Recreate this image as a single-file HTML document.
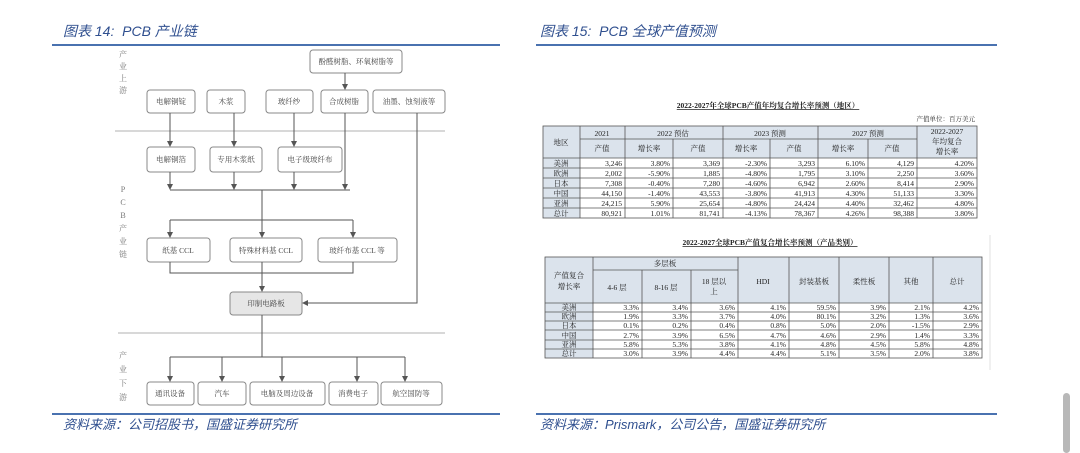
<!DOCTYPE html>
<html><head><meta charset="utf-8"><style>
html,body{margin:0;padding:0;background:#fff;}
body{width:1080px;height:451px;overflow:hidden;position:relative;}
.t{position:absolute;font-family:"Liberation Sans","Noto Sans CJK SC",sans-serif;font-style:italic;color:#2f4f8f;font-size:14px;white-space:nowrap;}
.ln{position:absolute;height:2px;background:#4a72b0;}
</style></head><body>
<div class="t" style="left:63px;top:21px;">图表 14:&nbsp; PCB 产业链</div>
<div class="t" style="left:540px;top:21px;">图表 15:&nbsp; PCB 全球产值预测</div>
<div class="ln" style="left:52px;top:44px;width:448px;"></div>
<div class="ln" style="left:536px;top:44px;width:461px;"></div>
<div class="ln" style="left:52px;top:413px;width:448px;"></div>
<div class="ln" style="left:536px;top:413px;width:461px;"></div>
<div class="t" style="left:63px;top:414px;font-size:13px;">资料来源：公司招股书，国盛证券研究所</div>
<div class="t" style="left:540px;top:414px;font-size:13px;">资料来源：Prismark，公司公告，国盛证券研究所</div>
<div style="position:absolute;left:1063px;top:393px;width:7px;height:60px;background:#b8b8b8;border-radius:4px;"></div>

<svg style="position:absolute;left:0;top:0" width="1080" height="451" xmlns="http://www.w3.org/2000/svg">
<defs><marker id="a" markerWidth="6" markerHeight="6" refX="5" refY="3" orient="auto"><path d="M0,0 L6,3 L0,6z" fill="#555"/></marker></defs>
<g font-family="Liberation Serif,Noto Serif CJK SC,serif" fill="#555">
<g stroke="#ccc" stroke-width="1.5"><line x1="115" y1="131" x2="445" y2="131"/><line x1="118" y1="333" x2="445" y2="333"/></g>
<g font-size="8" fill="#777" text-anchor="middle">
<text x="123" y="57">产</text><text x="123" y="69">业</text><text x="123" y="81">上</text><text x="123" y="93">游</text>
<text x="123" y="192">P</text><text x="123" y="205">C</text><text x="123" y="218">B</text><text x="123" y="231">产</text><text x="123" y="244">业</text><text x="123" y="257">链</text>
<text x="123" y="358">产</text><text x="123" y="372">业</text><text x="123" y="386">下</text><text x="123" y="400">游</text>
</g>
<g fill="#fff" stroke="#888" stroke-width="1">
<rect x="310" y="50" width="92" height="23" rx="3"/>
<rect x="147" y="90" width="48" height="23" rx="3"/><rect x="207" y="90" width="38" height="23" rx="3"/><rect x="266" y="90" width="47" height="23" rx="3"/><rect x="321" y="90" width="47" height="23" rx="3"/><rect x="373" y="90" width="72" height="23" rx="3"/>
<rect x="147" y="147" width="48" height="25" rx="3"/><rect x="210" y="147" width="52" height="25" rx="3"/><rect x="278" y="147" width="64" height="25" rx="3"/>
<rect x="147" y="238" width="63" height="24" rx="3"/><rect x="230" y="238" width="72" height="24" rx="3"/><rect x="318" y="238" width="79" height="24" rx="3"/>
<rect x="230" y="292" width="72" height="23" rx="3" fill="#e6e6e6"/>
<rect x="147" y="382" width="47" height="23" rx="3"/><rect x="198" y="382" width="48" height="23" rx="3"/><rect x="250" y="382" width="75" height="23" rx="3"/><rect x="329" y="382" width="49" height="23" rx="3"/><rect x="381" y="382" width="61" height="23" rx="3"/>
</g>
<g stroke="#555" stroke-width="1" fill="none">
<line x1="345" y1="73" x2="345" y2="89" marker-end="url(#a)"/>
<line x1="170" y1="113" x2="170" y2="146" marker-end="url(#a)"/><line x1="234" y1="113" x2="234" y2="146" marker-end="url(#a)"/><line x1="294" y1="113" x2="294" y2="146" marker-end="url(#a)"/>
<line x1="170" y1="172" x2="170" y2="189" marker-end="url(#a)"/><line x1="234" y1="172" x2="234" y2="189" marker-end="url(#a)"/><line x1="294" y1="172" x2="294" y2="189" marker-end="url(#a)"/><line x1="345" y1="113" x2="345" y2="189" marker-end="url(#a)"/>
<line x1="170" y1="190" x2="350" y2="190"/><line x1="262" y1="190" x2="262" y2="220"/>
<line x1="170" y1="220" x2="353" y2="220"/>
<line x1="170" y1="220" x2="170" y2="237" marker-end="url(#a)"/><line x1="262" y1="220" x2="262" y2="237" marker-end="url(#a)"/><line x1="353" y1="220" x2="353" y2="237" marker-end="url(#a)"/>
<polyline points="170,262 170,273 353,273 353,262"/><line x1="262" y1="262" x2="262" y2="291" marker-end="url(#a)"/>
<polyline points="417,113 417,303 303,303" marker-end="url(#a)"/>
<line x1="262" y1="315" x2="262" y2="357"/><line x1="170" y1="357" x2="405" y2="357"/>
<line x1="170" y1="357" x2="170" y2="381" marker-end="url(#a)"/><line x1="222" y1="357" x2="222" y2="381" marker-end="url(#a)"/><line x1="282" y1="357" x2="282" y2="381" marker-end="url(#a)"/><line x1="357" y1="357" x2="357" y2="381" marker-end="url(#a)"/><line x1="405" y1="357" x2="405" y2="381" marker-end="url(#a)"/>
</g>
<g font-size="7.5" text-anchor="middle" fill="#444">
<text x="356" y="64">酚醛树脂、环氧树脂等</text>
<text x="171" y="104">电解铜锭</text><text x="226" y="104">木浆</text><text x="289" y="104">玻纤纱</text><text x="344" y="104">合成树脂</text><text x="409" y="104">油墨、蚀刻液等</text>
<text x="171" y="162">电解铜箔</text><text x="236" y="162">专用木浆纸</text><text x="310" y="162">电子级玻纤布</text>
<text x="178" y="253">纸基 CCL</text><text x="266" y="253">特殊材料基 CCL</text><text x="357" y="253">玻纤布基 CCL 等</text>
<text x="266" y="306">印制电路板</text>
<text x="170" y="396">通讯设备</text><text x="222" y="396">汽车</text><text x="287" y="396">电脑及周边设备</text><text x="353" y="396">消费电子</text><text x="411" y="396">航空国防等</text>
</g>
</g>

<!-- Table 1 -->
<g font-family="Liberation Serif,Noto Serif CJK SC,serif" font-size="7.5" fill="#222">
<text x="768" y="108" text-anchor="middle" font-weight="bold" text-decoration="underline">2022-2027年全球PCB产值年均复合增长率预测（地区）</text>
<text x="975" y="121" text-anchor="end" font-size="6.5">产值单位：百万美元</text>
<rect x="543" y="126" width="434" height="32" fill="#dbe3ec"/>
<rect x="543" y="158" width="37" height="60" fill="#dbe3ec"/>
<g stroke="#555" stroke-width="0.8" fill="none">
<rect x="543" y="126" width="434" height="92"/>
<line x1="580" y1="139" x2="917" y2="139"/>
<line x1="543" y1="158" x2="977" y2="158"/>
<line x1="580" y1="126" x2="580" y2="218"/><line x1="625" y1="126" x2="625" y2="218"/><line x1="673" y1="139" x2="673" y2="218"/><line x1="723" y1="126" x2="723" y2="218"/><line x1="770" y1="139" x2="770" y2="218"/><line x1="818" y1="126" x2="818" y2="218"/><line x1="868" y1="139" x2="868" y2="218"/><line x1="917" y1="126" x2="917" y2="218"/>
<line x1="543" y1="168" x2="977" y2="168"/><line x1="543" y1="178" x2="977" y2="178"/><line x1="543" y1="188" x2="977" y2="188"/><line x1="543" y1="198" x2="977" y2="198"/><line x1="543" y1="208" x2="977" y2="208"/>
</g>
<g text-anchor="middle">
<text x="561" y="145">地区</text><text x="602" y="136">2021</text><text x="673" y="136">2022 预估</text><text x="770" y="136">2023 预测</text><text x="868" y="136">2027 预测</text>
<text x="947" y="134">2022-2027</text><text x="947" y="144">年均复合</text><text x="947" y="154">增长率</text>
<text x="602" y="151">产值</text><text x="649" y="151">增长率</text><text x="698" y="151">产值</text><text x="746" y="151">增长率</text><text x="794" y="151">产值</text><text x="843" y="151">增长率</text><text x="892" y="151">产值</text>
<text x="561" y="166">美洲</text><text x="561" y="176">欧洲</text><text x="561" y="186">日本</text><text x="561" y="196">中国</text><text x="561" y="206">亚洲</text><text x="561" y="216">总计</text>
</g>
<g text-anchor="end">
<text x="622" y="166">3,246</text><text x="670" y="166">3.80%</text><text x="720" y="166">3,369</text><text x="767" y="166">-2.30%</text><text x="815" y="166">3,293</text><text x="865" y="166">6.10%</text><text x="914" y="166">4,129</text><text x="974" y="166">4.20%</text>
<text x="622" y="176">2,002</text><text x="670" y="176">-5.90%</text><text x="720" y="176">1,885</text><text x="767" y="176">-4.80%</text><text x="815" y="176">1,795</text><text x="865" y="176">3.10%</text><text x="914" y="176">2,250</text><text x="974" y="176">3.60%</text>
<text x="622" y="186">7,308</text><text x="670" y="186">-0.40%</text><text x="720" y="186">7,280</text><text x="767" y="186">-4.60%</text><text x="815" y="186">6,942</text><text x="865" y="186">2.60%</text><text x="914" y="186">8,414</text><text x="974" y="186">2.90%</text>
<text x="622" y="196">44,150</text><text x="670" y="196">-1.40%</text><text x="720" y="196">43,553</text><text x="767" y="196">-3.80%</text><text x="815" y="196">41,913</text><text x="865" y="196">4.30%</text><text x="914" y="196">51,133</text><text x="974" y="196">3.30%</text>
<text x="622" y="206">24,215</text><text x="670" y="206">5.90%</text><text x="720" y="206">25,654</text><text x="767" y="206">-4.80%</text><text x="815" y="206">24,424</text><text x="865" y="206">4.40%</text><text x="914" y="206">32,462</text><text x="974" y="206">4.80%</text>
<text x="622" y="216">80,921</text><text x="670" y="216">1.01%</text><text x="720" y="216">81,741</text><text x="767" y="216">-4.13%</text><text x="815" y="216">78,367</text><text x="865" y="216">4.26%</text><text x="914" y="216">98,388</text><text x="974" y="216">3.80%</text>
</g>

<!-- Table 2 -->
<text x="770" y="245" text-anchor="middle" font-weight="bold" text-decoration="underline">2022-2027全球PCB产值复合增长率预测（产品类别）</text>
<rect x="545" y="257" width="437" height="46" fill="#dbe3ec"/>
<rect x="545" y="303" width="48" height="55" fill="#dbe3ec"/>
<g stroke="#555" stroke-width="0.8" fill="none">
<rect x="545" y="257" width="437" height="101"/>
<line x1="593" y1="270" x2="738" y2="270"/>
<line x1="545" y1="303" x2="982" y2="303"/>
<line x1="593" y1="257" x2="593" y2="358"/><line x1="642" y1="270" x2="642" y2="358"/><line x1="691" y1="270" x2="691" y2="358"/><line x1="738" y1="257" x2="738" y2="358"/><line x1="789" y1="257" x2="789" y2="358"/><line x1="839" y1="257" x2="839" y2="358"/><line x1="889" y1="257" x2="889" y2="358"/><line x1="933" y1="257" x2="933" y2="358"/>
<line x1="545" y1="312" x2="982" y2="312"/><line x1="545" y1="321" x2="982" y2="321"/><line x1="545" y1="330" x2="982" y2="330"/><line x1="545" y1="340" x2="982" y2="340"/><line x1="545" y1="349" x2="982" y2="349"/>
</g>
<g text-anchor="middle">
<text x="569" y="278">产值复合</text><text x="569" y="289">增长率</text>
<text x="665" y="266">多层板</text>
<text x="617" y="290">4-6 层</text><text x="666" y="290">8-16 层</text><text x="714" y="284">18 层以</text><text x="714" y="294">上</text>
<text x="763" y="284">HDI</text><text x="814" y="284">封装基板</text><text x="864" y="284">柔性板</text><text x="911" y="284">其他</text><text x="957" y="284">总计</text>
<text x="569" y="310">美洲</text><text x="569" y="319">欧洲</text><text x="569" y="328">日本</text><text x="569" y="338">中国</text><text x="569" y="347">亚洲</text><text x="569" y="356">总计</text>
</g>
<g text-anchor="end">
<text x="639" y="310">3.3%</text><text x="688" y="310">3.4%</text><text x="735" y="310">3.6%</text><text x="786" y="310">4.1%</text><text x="836" y="310">59.5%</text><text x="886" y="310">3.9%</text><text x="930" y="310">2.1%</text><text x="979" y="310">4.2%</text>
<text x="639" y="319">1.9%</text><text x="688" y="319">3.3%</text><text x="735" y="319">3.7%</text><text x="786" y="319">4.0%</text><text x="836" y="319">80.1%</text><text x="886" y="319">3.2%</text><text x="930" y="319">1.3%</text><text x="979" y="319">3.6%</text>
<text x="639" y="328">0.1%</text><text x="688" y="328">0.2%</text><text x="735" y="328">0.4%</text><text x="786" y="328">0.8%</text><text x="836" y="328">5.0%</text><text x="886" y="328">2.0%</text><text x="930" y="328">-1.5%</text><text x="979" y="328">2.9%</text>
<text x="639" y="338">2.7%</text><text x="688" y="338">3.9%</text><text x="735" y="338">6.5%</text><text x="786" y="338">4.7%</text><text x="836" y="338">4.6%</text><text x="886" y="338">2.9%</text><text x="930" y="338">1.4%</text><text x="979" y="338">3.3%</text>
<text x="639" y="347">5.8%</text><text x="688" y="347">5.3%</text><text x="735" y="347">3.8%</text><text x="786" y="347">4.1%</text><text x="836" y="347">4.8%</text><text x="886" y="347">4.5%</text><text x="930" y="347">5.8%</text><text x="979" y="347">4.8%</text>
<text x="639" y="356">3.0%</text><text x="688" y="356">3.9%</text><text x="735" y="356">4.4%</text><text x="786" y="356">4.4%</text><text x="836" y="356">5.1%</text><text x="886" y="356">3.5%</text><text x="930" y="356">2.0%</text><text x="979" y="356">3.8%</text>
</g>
<line x1="990" y1="235" x2="990" y2="370" stroke="#e2e2e2"/>
</g>
</svg>
</body></html>
